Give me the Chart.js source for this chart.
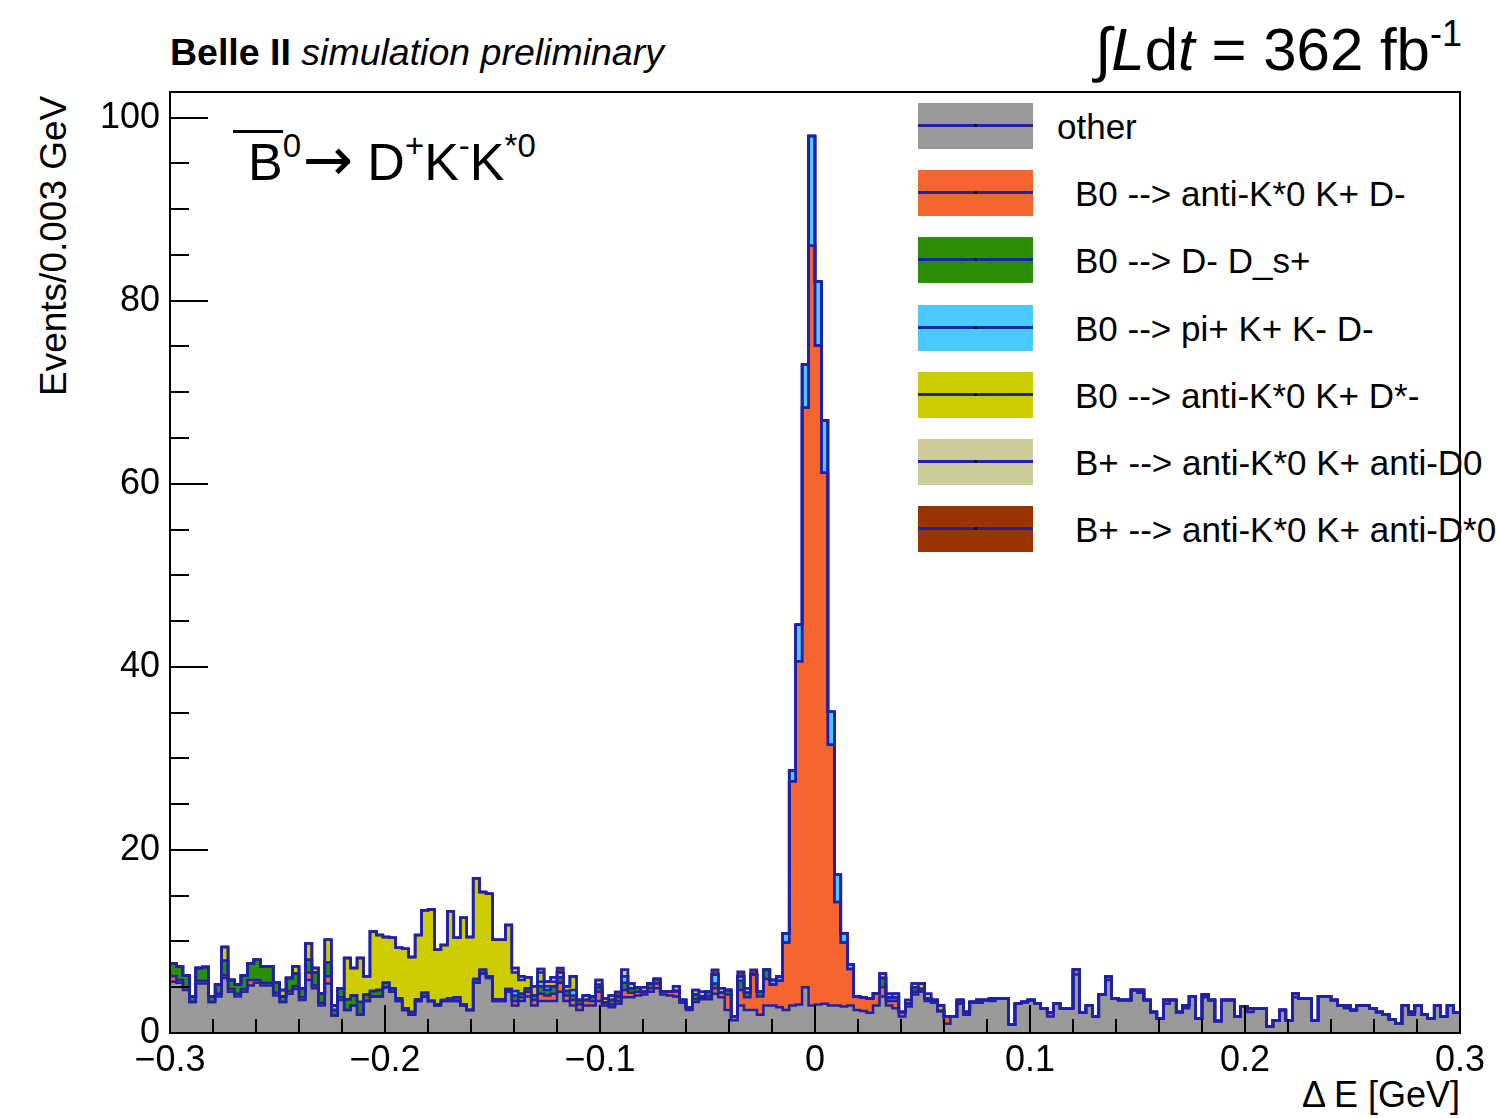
<!DOCTYPE html>
<html>
<head>
<meta charset="utf-8">
<script src="https://cdn.jsdelivr.net/npm/chart.js@4.4.1/dist/chart.umd.min.js"></script>
<style>
  body { margin: 0; background: #fff; font-family: "Liberation Sans", Arial, sans-serif; }
  #wrap { position: relative; width: 1496px; height: 1118px; overflow: hidden; }
  #deltaE { position: absolute; left: 0; top: 0; z-index: 2; }
  .txt { position: absolute; white-space: nowrap; color: #000; line-height: 1; z-index: 1; }
  .lrow { position: absolute; left: 918px; height: 46px; z-index: 1; }
  .lbox { position: absolute; left: 0; top: 0; width: 115px; height: 46px; }
  .lline { position: absolute; left: 0; top: 21px; width: 115px; height: 3px; background: #2020a8; }
  .ldot { position: absolute; left: 56px; top: 21px; width: 3px; height: 3px; background: #111; }
  .ltext { position: absolute; top: 6px; font-size: 35px; line-height: 1; white-space: pre; }
  sup { font-size: 60%; }
</style>
</head>
<body>
<div id="wrap">
  <div class="txt" style="left:170px; top:34px; font-size:37.5px;"><b>Belle II</b> <i>simulation preliminary</i></div>
  <div class="txt" style="right:34px; top:16px; font-size:60px;">&#8747;<i>L</i>d<i>t</i> = 362 fb<sup style="font-size:36px; vertical-align:24px;">-1</sup></div>
  <div class="txt" style="left:248px; top:129px; font-size:52px;"><span style="border-top:3px solid #000; margin-left:-15px; padding-left:15px;">B</span><sup style="font-size:33px; vertical-align:23px;">0</sup><span style="font-family:'DejaVu Sans'; font-size:60px; line-height:1; margin:0 14px 0 2px;">&#8594;</span>D<sup style="font-size:33px; vertical-align:23px;">+</sup>K<sup style="font-size:33px; vertical-align:23px;">-</sup>K<sup style="font-size:33px; vertical-align:23px;">*0</sup></div>
  <div class="txt" style="left:35px; top:396px; font-size:37px; transform-origin:0 0; transform:rotate(-90deg);">Events/0.003 GeV</div>
  <div class="txt" style="right:36px; top:1077px; font-size:36px;">&#916; E [GeV]</div>
  <div id="legend"></div>
  <canvas id="deltaE" width="1496" height="1118"></canvas>
</div>
<script>
// Delta E histogram, 200 bins of 0.003 GeV from -0.3 to 0.3
const binLow = -0.3;
const binWidth = 0.003;

const seriesNames = [
  'other',
  'B0 --> anti-K*0 K+ D-',
  'B0 --> D- D_s+',
  'B0 --> pi+ K+ K- D-',
  'B0 --> anti-K*0 K+ D*-',
  'B+ --> anti-K*0 K+ anti-D0',
  'B+ --> anti-K*0 K+ anti-D*0'
];

const other = [
  5.6,5.5,4.7,3.4,5.4,5.4,3.4,4.0,6.0,4.5, 4.0,4.5,5.2,5.5,5.2,5.2,4.1,3.4,4.3,4.8,
  3.6,5.8,4.9,3.0,5.4,1.9,3.6,2.5,3.0,2.0, 3.5,4.0,4.0,5.0,4.5,3.5,2.5,2.0,3.5,4.0,
  3.5,3.0,3.5,3.5,3.5,3.0,2.5,5.5,6.5,6.0, 3.5,3.5,4.5,3.0,3.5,4.0,3.0,3.5,3.5,3.5,
  4.5,3.5,3.0,2.5,3.0,3.0,3.5,3.0,2.8,3.2, 3.9,3.9,4.1,4.2,4.5,4.9,4.2,4.1,4.0,3.3,
  2.5,3.4,3.7,3.7,4.3,3.9,2.5,1.4,3.0,2.5, 2.5,2.0,3.0,3.0,2.8,2.5,3.0,3.1,5.0,3.0,
  3.1,3.2,3.0,3.0,2.9,3.0,2.5,2.4,2.2,3.0, 4.0,3.0,2.7,1.8,2.9,4.2,4.5,3.5,3.3,2.4,
  1.0,1.8,3.2,2.0,3.4,3.3,3.6,3.5,3.8,3.8, 0.9,3.2,3.4,3.6,3.2,2.7,1.8,3.2,2.7,2.7,
  6.4,2.2,3.0,1.8,4.2,5.8,3.8,3.6,3.6,4.7, 4.4,3.6,2.3,1.6,3.2,3.6,2.3,2.7,4.0,1.6,
  3.9,3.6,1.3,3.6,3.6,1.8,2.9,2.3,2.7,2.7, 0.7,1.4,2.5,1.4,3.9,3.8,3.8,1.4,4.0,4.0,
  3.6,3.0,2.7,2.5,3.0,3.0,2.7,2.3,2.0,1.5, 1.0,3.0,2.0,3.0,2.0,1.6,3.0,1.8,3.0,2.2
];

const kstarKD = [
  0.6,0.3,0.3,0,0.3,0.3,0,0.3,0.3,0.3, 0.3,0.3,0.6,0.3,0.3,0.3,0.3,0,0.3,0.3,
  0.3,0.8,0.3,0.3,0.8,0,0.3,0,0,0, 0,0,0,0,0,0,0,0,0,0,
  0,0,0,0,0,0,0,0,0,0, 0,0,0,0.5,0.4,0.5,0.6,0.8,0.6,0.8,
  1.0,0.6,0.6,0.6,0.6,0.5,1.0,0.3,0.3,0.3, 0.8,0.5,0.4,0.3,0.4,0.5,0.3,0.4,0.6,0.3,
  0.3,0.3,0.3,0.3,0.6,0.5,1.7,0.4,1.7,1.4, 3.9,2.0,2.9,2.3,2.9,7.4,24.5,37.5,63.3,83.0,
  72.0,58.0,28.5,11.3,7.0,4.0,1.5,1.5,1.6,1.3, 1.0,0.5,0.8,0.5,0.3,0.3,0.3,0.3,0.3,0,
  0.8,0,0,0.3,0,0.3,0,0.3,0,0, 0,0,0,0,0,0,0.4,0,0,0,
  0.5,0,0,0,0,0.4,0,0,0,0, 0.3,0,0,0,0.4,0,0,0.3,0,0,
  0.3,0,0,0,0,0,0,0.4,0,0, 0,0,0,0,0.4,0,0,0,0,0,
  0,0,0.3,0,0,0,0,0,0,0, 0,0,0.3,0,0,0,0,0,0,0
];

const dDs = [
  1.4,1.5,1.3,0.6,1.4,1.5,0.6,1.0,1.6,1.0, 1.0,1.5,1.8,2.2,1.8,1.8,1.1,0.6,1.4,1.4,
  1.0,1.4,1.4,1.0,1.5,0.6,1.0,1.2,1.1,1.4, 0.7,0.6,0.7,0.5,0.4,0.3,0.2,0.3,0.2,0.4,
  0,0.1,0.1,0.3,0.4,0.1,0,0.4,0.4,0.2, 0.2,0.2,0.3,0.6,0.4,0.4,0.5,0.8,0.6,0.8,
  0.6,0.5,0.5,0.5,0,0.5,0.5,0,0.5,0.5, 0.8,0.5,0.5,0,0.5,0.5,0,0,0,0,
  0,0.5,0,0.5,0.5,0,0.5,0,1.0,0.5, 0,0.5,1.0,0,0,0,0,0,0,0,
  0,0,0,0,0,0,0,0,0,0, 1.0,0.4,0.4,0,0,0.5,0,0,0,0,
  0,0,0.4,0,0,0,0,0,0,0, 0,0,0,0,0,0,0,0,0,0,
  0,0,0,0,0,0,0,0,0,0, 0,0,0,0,0,0,0,0,0,0,
  0,0,0,0,0,0,0,0,0,0, 0,0,0,0,0,0,0,0,0,0,
  0,0,0,0,0,0,0,0,0,0, 0,0,0,0,0,0,0,0,0,0
];

const piKKD = [
  0,0,0,0,0,0,0,0,0,0, 0,0,0,0,0,0,0,0,0,0,
  0,0,0,0,0,0,0,0,0,0, 0,0,0,0,0,0,0,0,0,0,
  0,0,0,0,0,0,0,0,0,0, 0,0,0,0.5,0,0,0,0.5,0.4,0,
  0,0,0.6,0,0,0,0,0,0,0, 0.7,0,0,0,0,0,0,0,0,0,
  0,0,0,0,1.0,0,0,0,0.5,0, 0,0,0,0.5,0.5,1.0,1.2,4.0,4.7,12.0,
  7.0,5.7,3.6,3.0,1.0,0.5,0,0,0,0, 0,0,0,0,0,0,0,0,0,0,
  0,0,0,0,0,0,0,0,0,0, 0,0,0,0,0,0,0,0,0,0,
  0,0,0,0,0,0,0,0,0,0, 0,0,0,0,0,0,0,0,0,0,
  0,0,0,0,0,0,0,0,0,0, 0,0,0,0,0,0,0,0,0,0,
  0,0,0,0,0,0,0,0,0,0, 0,0,0,0,0,0,0,0,0,0
];

const kstarKDstar = [
  0,0,0,0,0,0,0,0,1.5,0, 0,0,0,0,0,0,0,0.7,0,0.8,
  0,1.8,0.5,0,2.5,0.5,0,4.5,3.0,4.8, 2.0,6.5,6.0,5.0,5.5,5.5,6.5,6.0,7.0,9.0,
  10.0,6.0,6.0,9.5,6.5,9.5,8.0,11.0,8.5,9.0, 6.5,6.5,7.0,2.0,1.5,1.2,1.0,1.0,0.5,0.5,
  0.5,0.5,1.5,0,0.5,0,0.3,0.5,0,0, 0,0,0,0,0,0,0,0,0,0,
  0,0,0,0,0,0,0,0,0,0, 0,0,0,0,0,0,0,0,0,0,
  0,0,0,0,0,0,0,0,0,0, 0,0,0.4,0,0,0,0.6,0,0,0.6,
  0,0,0,0,0,0,0,0,0,0, 0,0,0,0,0,0,0,0,0,0,
  0,0,0,0,0,0,0,0,0,0, 0,0,0,0,0,0,0,0,0,0,
  0,0,0,0,0,0,0,0,0,0, 0,0,0,0,0,0,0,0,0,0,
  0,0,0,0,0,0,0,0,0,0, 0,0,0,0,0,0,0,0,0,0
];

const bpKD0 = [
  0,0,0,0,0,0,0,0,0,0, 0,0,0,0,0,0,0,0,0,0,
  0,0,0,0,0,0,0,0,0,0, 0,0,0,0,0,0,0,0,0,0,
  0,0,0,0,0,0,0,0,0,0, 0,0,0,0.5,0.4,0,0,0.4,0,0.5,
  0,0,0,0,0,0,0.5,0,0.5,0, 0.7,0.5,0,0.5,0,0,0,0,0.5,0,
  0,0.5,0.5,0,0,0.5,0,0,0,0.5, 0,0,0,0,0,0,0,0,0,0,
  0,0,0,0,0,0,0,0,0,0, 0.5,0.4,0,0,0.4,0.4,0,0.5,0,0,
  0,0,0,0,0,0,0,0,0,0, 0,0,0,0,0,0,0,0,0,0,
  0,0,0,0,0,0,0,0,0,0, 0,0,0,0,0,0,0,0,0,0,
  0,0,0,0,0,0,0,0,0,0, 0,0,0,0,0,0,0,0,0,0,
  0,0,0,0,0,0,0,0,0,0, 0,0,0,0,0,0,0,0,0,0
];

const bpKDstar0 = [
  0,0,0,0,0,0,0,0,0,0, 0,0,0,0,0,0,0,0,0,0,
  0,0,0,0,0,0,0,0,0,0, 0,0,0,0,0,0,0,0,0,0,
  0,0,0,0,0,0,0,0,0,0, 0,0,0,0,0,0,0,0,0,0,
  0.5,0,0,0,0,0,0,0,0,0.5, 0,0,0,0,0,0,0,0,0,0,
  0,0,0,0,0.5,0,0,0,0.5,0, 0.5,0,0,0,0,0,0,0,0,0,
  0,0,0,0,0,0,0,0,0,0, 0,0,0,0,0,0,0,0,0,0,
  0,0,0,0,0,0,0,0,0,0, 0,0,0,0,0,0,0,0,0,0,
  0,0,0,0,0,0,0,0,0,0, 0,0,0,0,0,0,0,0,0,0,
  0,0,0,0,0,0,0,0,0,0, 0,0,0,0,0,0,0,0,0,0,
  0,0,0,0,0,0,0,0,0,0, 0,0,0,0,0,0,0,0,0,0
];

const seriesData = [other, kstarKD, dDs, piKKD, kstarKDstar, bpKD0, bpKDstar0];
const fillColors = ['#999999', '#f5662f', '#2b8f06', '#4ccaff', '#cccc00', '#cccc9a', '#993300'];
const lineColor = '#2020a8';

// bin contents -> step points at the bin low edges, plus the upper edge of the last bin
function toSteps(vals) {
  const pts = vals.map((v, i) => ({ x: binLow + i * binWidth, y: v }));
  pts.push({ x: binLow + vals.length * binWidth, y: vals[vals.length - 1] });
  return pts;
}

function fmtX(v) {
  const r = Math.round(v * 10) / 10;
  if (r === 0) return '0';
  return r < 0 ? '\u2212' + Math.abs(r).toFixed(1) : r.toFixed(1);
}

// ROOT style frame with inner tick marks
const frameTicks = {
  id: 'frameTicks',
  afterDraw(chart) {
    const { ctx, chartArea: a, scales: { x, y } } = chart;
    ctx.save();
    ctx.strokeStyle = '#000';
    ctx.lineWidth = 2;
    ctx.beginPath();
    for (let v = 0; v <= 100; v += 5) {
      const py = Math.round(y.getPixelForValue(v));
      const len = v % 20 === 0 ? 38 : 19;
      ctx.moveTo(a.left, py);
      ctx.lineTo(a.left + len, py);
    }
    for (let k = -15; k <= 15; k++) {
      const px = Math.round(x.getPixelForValue(k * 0.02));
      const len = k % 5 === 0 ? 28 : 14;
      ctx.moveTo(px, a.bottom);
      ctx.lineTo(px, a.bottom - len);
    }
    ctx.stroke();
    ctx.strokeRect(a.left, a.top, a.right - a.left, a.bottom - a.top);
    ctx.restore();
  }
};

Chart.defaults.font.family = '"Liberation Sans", Arial, sans-serif';
Chart.defaults.color = '#000';

const ctx = document.getElementById('deltaE').getContext('2d');
const deltaEChart = new Chart(ctx, {
  type: 'line',
  data: {
    datasets: seriesData.map((vals, i) => ({
      label: seriesNames[i],
      data: toSteps(vals),
      backgroundColor: fillColors[i],
      borderColor: lineColor,
      borderWidth: 2.5,
      stepped: 'before',
      pointRadius: 0,
      fill: i === 0 ? 'origin' : '-1'
    }))
  },
  options: {
    responsive: false,
    animation: false,
    layout: { padding: { top: 92, right: 36, left: 0, bottom: 0 } },
    plugins: {
      legend: { display: false },
      tooltip: { enabled: false },
      filler: { drawTime: 'beforeDatasetsDraw' }
    },
    scales: {
      x: {
        type: 'linear',
        min: -0.3,
        max: 0.3,
        grid: { display: false, drawTicks: false },
        border: { display: false },
        ticks: {
          stepSize: 0.1,
          font: { size: 36 },
          padding: 6,
          maxRotation: 0,
          autoSkip: false,
          callback: v => fmtX(v)
        },
        afterFit: s => { s.height = 85; }
      },
      y: {
        stacked: true,
        min: 0,
        max: 102.8,
        grid: { display: false, drawTicks: false },
        border: { display: false },
        ticks: {
          stepSize: 20,
          includeBounds: false,
          font: { size: 36 },
          padding: 10
        },
        afterFit: s => { s.width = 170; }
      }
    }
  },
  plugins: [frameTicks]
});

// legend, ROOT style: filled box with the outline colour through it
const legend = document.getElementById('legend');
seriesNames.forEach((name, i) => {
  const row = document.createElement('div');
  row.className = 'lrow';
  row.style.top = (103 + i * 67.2) + 'px';
  row.innerHTML = '<div class="lbox" style="background:' + fillColors[i] + '"></div>' +
    '<div class="lline"></div><div class="ldot"></div>' +
    '<div class="ltext" style="left:' + (i === 0 ? 139 : 157) + 'px">' + name + '</div>';
  legend.appendChild(row);
});
</script>
</body>
</html>
